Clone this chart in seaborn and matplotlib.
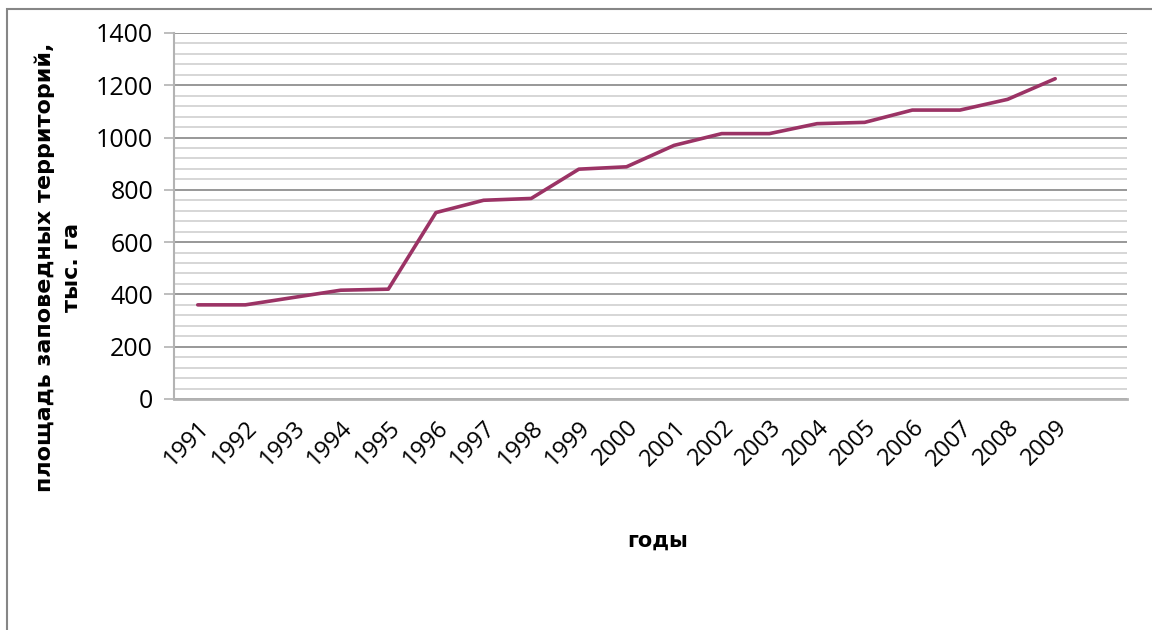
import pandas as pd
import matplotlib.pyplot as plt
import seaborn as sns
from matplotlib.ticker import MultipleLocator
from matplotlib.patches import Rectangle

# данные с графика
years = ['1991', '1992', '1993', '1994', '1995', '1996', '1997', '1998', '1999', '2000',
         '2001', '2002', '2003', '2004', '2005', '2006', '2007', '2008', '2009']
area = [360, 360, 388, 416, 420, 713, 760, 767, 879, 888,
        970, 1015, 1015, 1053, 1058, 1105, 1105, 1146, 1225]

data = pd.DataFrame({'год': years, 'площадь': area})

sns.set_style('white')
plt.rcParams['font.family'] = ['Open Sans', 'DejaVu Sans']

fig = plt.figure(figsize=(11.52, 6.30), dpi=100)
ax = fig.add_axes([0.151, 0.3667, 0.827, 0.581])

sns.lineplot(data=data, x='год', y='площадь', ax=ax, color='#9B3365', linewidth=2.6)

# 20 позиций по оси, последняя пустая
ax.set_xlim(-0.5, 19.5)
ax.set_ylim(0, 1400)
ax.yaxis.set_major_locator(MultipleLocator(200))
ax.yaxis.set_minor_locator(MultipleLocator(40))
ax.grid(which='major', axis='y', color='#868686', linewidth=1.2)
ax.grid(which='minor', axis='y', color='#cfcfcf', linewidth=1.2)
ax.grid(axis='x', visible=False)
ax.set_axisbelow(True)

for s in ['top', 'right']:
    ax.spines[s].set_visible(False)
ax.spines['left'].set_color('#b3b3b3')
ax.spines['bottom'].set_color('#b3b3b3')
ax.spines['left'].set_linewidth(1.5)
ax.spines['bottom'].set_linewidth(2)

ax.tick_params(axis='y', which='major', direction='out', length=7, width=1.2,
               color='#b3b3b3', left=True, labelsize=18, pad=8, labelcolor='black')
ax.tick_params(axis='y', which='minor', left=False)
ax.tick_params(axis='x', length=0, labelsize=17, pad=12, labelcolor='black')
plt.setp(ax.get_xticklabels(), rotation=45, ha='right', rotation_mode='anchor')

ax.set_xlabel('годы', fontsize=15, fontweight='bold', color='black', family='DejaVu Sans')
ax.xaxis.set_label_coords(0.508, -0.36)
ax.set_ylabel('площадь заповедных территорий,\nтыс. га', fontsize=16, family='DejaVu Sans',
              fontweight='bold', linespacing=1.4, color='black')
ax.yaxis.set_label_coords(-0.097, 0.36)

fig.patches.append(Rectangle((7 / 1152, -0.1), 1.2, 1 - 9 / 630 + 0.1, transform=fig.transFigure,
                             fill=False, edgecolor='#868686', linewidth=1.5))

fig.savefig('out.png', dpi=100)
